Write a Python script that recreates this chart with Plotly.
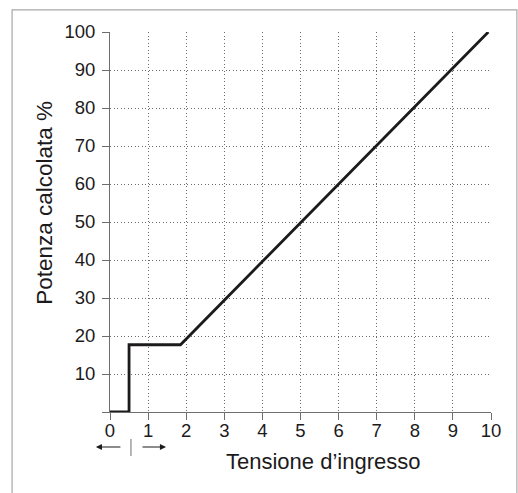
import plotly.graph_objects as go

# Characteristic curve: computed power (%) vs input voltage
voltage = [0, 0.5, 0.5, 1.85, 9.93]
power = [0, 0, 17.7, 17.7, 100]

x_ticks = list(range(0, 11))
y_ticks = list(range(0, 101, 10))
y_ticktext = [""] + [str(v) for v in y_ticks[1:]]

x_title = "Tensione d’ingresso"
y_title = "Potenza calcolata %"

FONT = "Liberation Sans, Arial, Helvetica, sans-serif"
INK = "#1c1a1b"
AXIS = "#6e6e6e"
GRID = "#6a6a6a"

fig = go.Figure()
fig.add_trace(go.Scatter(
    x=voltage, y=power, mode="lines",
    line=dict(color=INK, width=2.8),
    hoverinfo="skip", showlegend=False,
))

axis_common = dict(
    showline=True, linecolor=AXIS, linewidth=1,
    ticks="outside", ticklen=7, tickcolor=AXIS, tickwidth=1,
    showgrid=True, gridcolor=GRID, gridwidth=1, griddash="1px,2.5px",
    zeroline=False,
    tickfont=dict(family=FONT, size=18.5, color=INK),
)

fig.update_xaxes(range=[0, 10], tickvals=x_ticks, ticklabelstandoff=-5,
                 **axis_common)
fig.update_yaxes(range=[0, 100], tickvals=y_ticks, ticktext=y_ticktext,
                 ticklabelstandoff=3, **axis_common)

annotations = [
    dict(text=x_title, xref="paper", yref="paper", x=0.559, y=-0.13,
         showarrow=False, font=dict(family=FONT, size=22, color=INK),
         xanchor="center", yanchor="middle"),
    dict(text=y_title, xref="paper", yref="paper", x=-0.171, y=0.55,
         showarrow=False, textangle=-90,
         font=dict(family=FONT, size=22.5, color=INK),
         xanchor="center", yanchor="middle"),
    # direction arrows either side of the switching threshold
    dict(x=-0.037, y=-0.092, ax=26, ay=0, xref="paper", yref="paper",
         text="", showarrow=True,
         arrowhead=2, arrowsize=1.1, arrowwidth=1.1, arrowcolor=INK),
    dict(x=0.147, y=-0.092, ax=-25, ay=0, xref="paper", yref="paper",
         text="", showarrow=True,
         arrowhead=2, arrowsize=1.1, arrowwidth=1.1, arrowcolor=INK),
]

shapes = [
    # threshold marker below the axis
    dict(type="line", xref="paper", yref="paper", x0=0.055, x1=0.055,
         y0=-0.071, y1=-0.116, line=dict(color=AXIS, width=1)),
    # outer frame
    dict(type="rect", xref="paper", yref="paper",
         x0=-0.257, x1=1.068, y0=-0.35, y1=1.058,
         line=dict(color="#a8a8a8", width=1.2), layer="below"),
]

fig.update_layout(
    width=518, height=493,
    margin=dict(l=110, r=27, t=32, b=81),
    paper_bgcolor="white", plot_bgcolor="white",
    annotations=annotations, shapes=shapes,
    showlegend=False,
)

fig.write_html("out.html", config=dict(displayModeBar=False))
